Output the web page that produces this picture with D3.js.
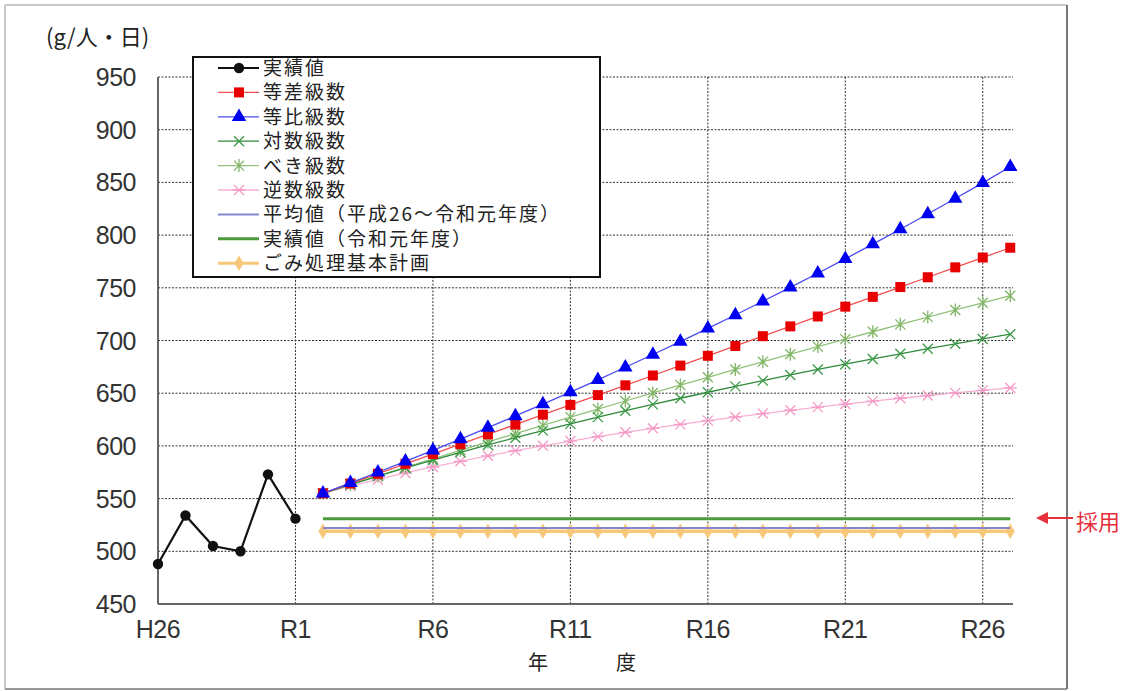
<!DOCTYPE html>
<html>
<head>
<meta charset="utf-8">
<script src="https://cdn.jsdelivr.net/npm/d3@7"></script>
<style>
  html, body { margin: 0; padding: 0; background: #fff; }
  svg { display: block; }
  .tick-label { font-family: "Liberation Sans", Arial, sans-serif; font-size: 25px; fill: #333; letter-spacing: -0.5px; }
  .jp { font-family: "Noto Sans CJK JP", sans-serif; fill: #222; }
</style>
</head>
<body>
<script>
// --- data ---
const actualYears = [2014, 2015, 2016, 2017, 2018, 2019];
const actualValues = [488, 534, 505, 500, 573, 531];

// R2 .. R27
const forecastYears = [2020, 2021, 2022, 2023, 2024, 2025, 2026, 2027, 2028, 2029, 2030, 2031, 2032,
  2033, 2034, 2035, 2036, 2037, 2038, 2039, 2040, 2041, 2042, 2043, 2044, 2045];
const arithValues = [555, 564.3, 573.6, 583.0, 592.3, 601.6, 610.9, 620.2, 629.6, 638.9, 648.2, 657.5, 666.8,
  676.2, 685.5, 694.8, 704.1, 713.4, 722.8, 732.1, 741.4, 750.7, 760.0, 769.4, 778.7, 788.0];
const geomValues = [555, 564.9, 575.0, 585.3, 595.8, 606.5, 617.3, 628.4, 639.6, 651.1, 662.7, 674.6, 686.7,
  699.0, 711.5, 724.2, 737.2, 750.4, 763.8, 777.5, 791.4, 805.6, 820.0, 834.7, 849.6, 864.8];
const logValues = [555, 563.3, 571.3, 579.1, 586.6, 593.9, 600.9, 607.8, 614.5, 620.9, 627.3, 633.4, 639.4,
  645.2, 650.9, 656.5, 661.9, 667.3, 672.5, 677.5, 682.5, 687.4, 692.2, 696.9, 701.5, 706.0];
const powerValues = [555, 563.3, 571.5, 579.7, 587.8, 595.8, 603.8, 611.7, 619.5, 627.3, 635.0, 642.6, 650.2,
  657.7, 665.1, 672.5, 679.8, 687.0, 694.2, 701.3, 708.3, 715.3, 722.2, 729.0, 735.8, 742.5];
const recipValues = [555, 561.8, 568.2, 574.3, 580.0, 585.4, 590.6, 595.5, 600.1, 604.6, 608.8, 612.9, 616.7,
  620.4, 624.0, 627.4, 630.7, 633.8, 636.8, 639.7, 642.5, 645.2, 647.8, 650.3, 652.7, 655.0];
const averageValue = 522;   // 平成26～令和元年度
const latestValue = 531;    // 令和元年度
const planValue = 519;      // ごみ処理基本計画

const xTickYears = [2014, 2019, 2024, 2029, 2034, 2039, 2044];
const xTickLabels = ["H26", "R1", "R6", "R11", "R16", "R21", "R26"];
const yTicks = [450, 500, 550, 600, 650, 700, 750, 800, 850, 900, 950];

const legendLabels = ["実績値", "等差級数", "等比級数", "対数級数", "べき級数", "逆数級数",
  "平均値（平成26～令和元年度）", "実績値（令和元年度）", "ごみ処理基本計画"];

// --- layout ---
const W = 1125, H = 691;
const plot = { left: 158, right: 1013, top: 77, bottom: 604 };

const svg = d3.select("body").append("svg").attr("width", W).attr("height", H);

// outer frame
svg.append("line").attr("x1", 5).attr("x2", 1067).attr("y1", 5).attr("y2", 5).attr("stroke", "#c8c8c8").attr("stroke-width", 2);
svg.append("line").attr("x1", 5).attr("x2", 5).attr("y1", 5).attr("y2", 689).attr("stroke", "#c8c8c8").attr("stroke-width", 2);
svg.append("line").attr("x1", 5).attr("x2", 1067).attr("y1", 689).attr("y2", 689).attr("stroke", "#999").attr("stroke-width", 2);
svg.append("line").attr("x1", 1067).attr("x2", 1067).attr("y1", 5).attr("y2", 689).attr("stroke", "#777").attr("stroke-width", 2);

const x = d3.scaleLinear().domain([2014, 2045.1]).range([plot.left, plot.right]);
const y = d3.scaleLinear().domain([450, 950]).range([plot.bottom, plot.top]);

// grid
const grid = svg.append("g").attr("stroke", "#333").attr("stroke-width", 1).attr("stroke-dasharray", "2,1.5");
grid.selectAll("line.h").data(yTicks.filter(v => v > 450)).join("line")
  .attr("x1", plot.left).attr("x2", plot.right)
  .attr("y1", d => y(d)).attr("y2", d => y(d));
grid.selectAll("line.v").data(xTickYears.slice(1)).join("line")
  .attr("x1", d => x(d)).attr("x2", d => x(d))
  .attr("y1", plot.top).attr("y2", plot.bottom);

// axes
svg.append("line").attr("x1", plot.left).attr("x2", plot.left).attr("y1", plot.top).attr("y2", plot.bottom)
  .attr("stroke", "#666").attr("stroke-width", 2);
svg.append("line").attr("x1", plot.left).attr("x2", plot.right).attr("y1", plot.bottom).attr("y2", plot.bottom)
  .attr("stroke", "#666").attr("stroke-width", 2);

svg.selectAll("text.ytick").data(yTicks).join("text")
  .attr("class", "tick-label")
  .attr("x", 136).attr("y", d => y(d) + 9)
  .attr("text-anchor", "end")
  .text(d => d);

svg.selectAll("text.xtick").data(xTickYears).join("text")
  .attr("class", "tick-label")
  .attr("x", d => x(d)).attr("y", 638)
  .attr("text-anchor", "middle")
  .text((d, i) => xTickLabels[i]);

svg.append("text").attr("class", "jp").attr("x", 46).attr("y", 45)
  .attr("font-size", 22).text("(g/人・日)");
svg.append("text").attr("class", "jp").attr("x", 528).attr("y", 670)
  .attr("font-size", 20).text("年");
svg.append("text").attr("class", "jp").attr("x", 616).attr("y", 670)
  .attr("font-size", 20).text("度");

// --- marker helpers ---
function crossPath(s) { return `M${-s},${-s}L${s},${s}M${-s},${s}L${s},${-s}`; }
function starVPath(s) { return crossPath(s) + `M0,${-s * 1.3}L0,${s * 1.3}`; }
function starHPath(s) { return crossPath(s) + `M${-s * 1.3},0L${s * 1.3},0`; }

const series = [
  { name: "plan", years: forecastYears, values: forecastYears.map(() => planValue), color: "#f7c77a", width: 3.5,
    marker: { path: d3.symbol().type(d3.symbolDiamond).size(70)(), fill: "#f7c77a", stroke: "none" } },
  { name: "average", years: [forecastYears[0], forecastYears[forecastYears.length - 1]], values: [averageValue, averageValue],
    color: "#8585d0", width: 2, marker: null },
  { name: "latest", years: [forecastYears[0], forecastYears[forecastYears.length - 1]], values: [latestValue, latestValue],
    color: "#4c9a3c", width: 3, marker: null },
  { name: "recip", years: forecastYears, values: recipValues, color: "#f7b0d4", width: 1.3,
    marker: { path: starHPath(5), fill: "none", stroke: "#f59ac6" } },
  { name: "power", years: forecastYears, values: powerValues, color: "#92c27a", width: 1.3,
    marker: { path: starVPath(5), fill: "none", stroke: "#7fb565" } },
  { name: "log", years: forecastYears, values: logValues, color: "#2f8a3a", width: 1.3,
    marker: { path: crossPath(5), fill: "none", stroke: "#3c9a48" } },
  { name: "arith", years: forecastYears, values: arithValues, color: "#f05050", width: 1.3,
    marker: { path: d3.symbol().type(d3.symbolSquare).size(100)(), fill: "#e80000", stroke: "none" } },
  { name: "geom", years: forecastYears, values: geomValues, color: "#4a4af0", width: 1.3,
    marker: { path: d3.symbol().type(d3.symbolTriangle).size(90)(), fill: "#0000f0", stroke: "none" } },
  { name: "actual", years: actualYears, values: actualValues, color: "#111", width: 2.2,
    marker: { path: d3.symbol().type(d3.symbolCircle).size(85)(), fill: "#111", stroke: "none" } }
];

const line = d3.line().x(d => x(d[0])).y(d => y(d[1]));

series.forEach(s => {
  const pts = s.years.map((yr, i) => [yr, s.values[i]]);
  const g = svg.append("g").attr("class", "series-" + s.name);
  g.append("path").datum(pts).attr("d", line)
    .attr("fill", "none").attr("stroke", s.color).attr("stroke-width", s.width);
  if (s.marker) {
    g.selectAll("path.m").data(pts).join("path")
      .attr("class", "m")
      .attr("transform", d => `translate(${x(d[0])},${y(d[1])})`)
      .attr("d", s.marker.path)
      .attr("fill", s.marker.fill)
      .attr("stroke", s.marker.stroke)
      .attr("stroke-width", 1.3);
  }
});

// --- legend ---
const legendOrder = ["actual", "arith", "geom", "log", "power", "recip", "average", "latest", "plan"];
const legend = svg.append("g");
legend.append("rect").attr("x", 193).attr("y", 57).attr("width", 407).attr("height", 220)
  .attr("fill", "#fff").attr("stroke", "#111").attr("stroke-width", 2);
legendOrder.forEach((key, i) => {
  const s = series.find(d => d.name === key);
  const cy = 68 + i * 24.4;
  legend.append("line").attr("x1", 218).attr("x2", 259).attr("y1", cy).attr("y2", cy)
    .attr("stroke", s.color).attr("stroke-width", Math.min(s.width, 3));
  if (s.marker) {
    legend.append("path").attr("transform", `translate(239,${cy})`).attr("d", s.marker.path)
      .attr("fill", s.marker.fill).attr("stroke", s.marker.stroke).attr("stroke-width", 1.3);
  }
  legend.append("text").attr("class", "jp").attr("x", 263).attr("y", cy + 7)
    .attr("font-size", 19).attr("letter-spacing", 2).text(legendLabels[i]);
});

// --- adopted annotation ---
svg.append("line").attr("x1", 1046).attr("x2", 1073).attr("y1", 518).attr("y2", 518)
  .attr("stroke", "#e8303a").attr("stroke-width", 2);
svg.append("path").attr("d", "M1036,518L1048,512L1048,524Z").attr("fill", "#e8303a");
svg.append("text").attr("class", "jp").attr("x", 1076).attr("y", 530)
  .attr("font-size", 22).style("fill", "#e8303a").text("採用");
</script>
</body>
</html>
